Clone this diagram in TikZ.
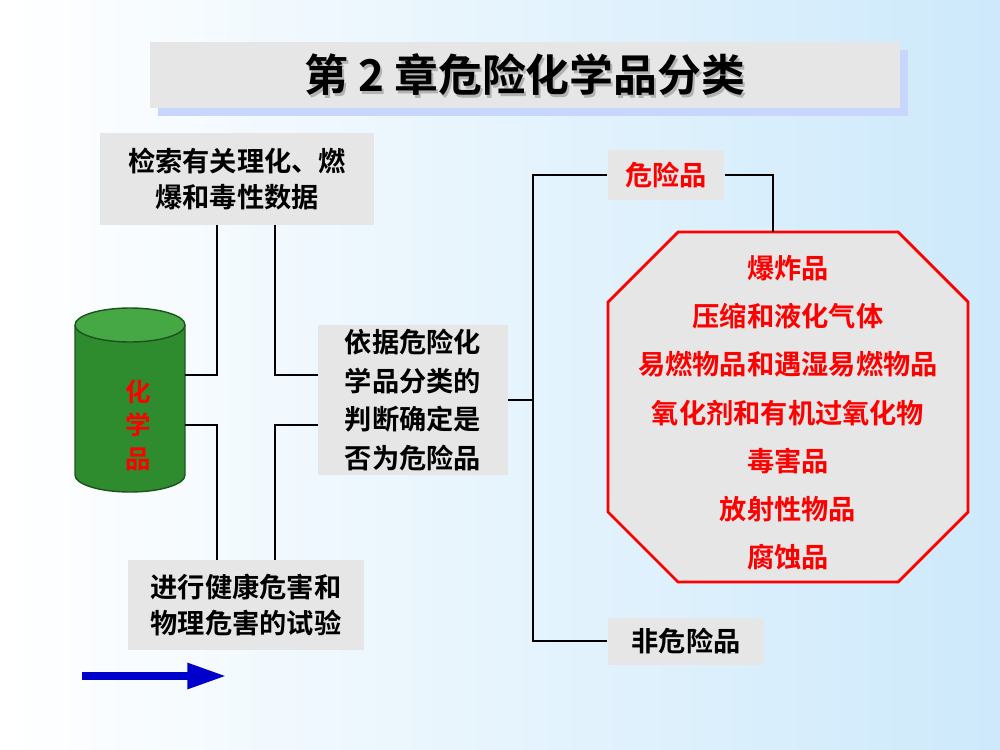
\documentclass[tikz,border=0pt]{standalone}
\usepackage{fontspec}
\setmainfont{Noto Sans CJK SC Bold}
\newfontfamily\cjkb{Noto Sans CJK SC Bold}
\usetikzlibrary{arrows.meta,shapes.geometric}
\definecolor{bgblue}{HTML}{CDE9FB}
\definecolor{boxgray}{HTML}{E6E6E6}
\definecolor{cylg}{HTML}{2E8B2E}
\definecolor{cyltop}{HTML}{45A845}
\tikzset{gbox/.style={fill=boxgray,inner sep=0pt,align=center,font=\fontsize{15.5}{20}\selectfont},
 conn/.style={line width=1.6pt,black},
 redt/.style={text=red,font=\fontsize{15.5}{20}\selectfont}}
\begin{document}
\begin{tikzpicture}[x=0.02cm,y=-0.02cm]
\shade[left color=white,right color=bgblue] (0,0) rectangle (1000,750);
\useasboundingbox (0,0) rectangle (1000,750);
% title
\fill[bgblue!80!blue!60] (158,50) rectangle (908,116);
\node[fill=boxgray,minimum width=15cm,minimum height=1.32cm,inner sep=0pt] (title) at (525,75) {};
\node[text=gray!60,font=\cjkb\fontsize{25}{30}\selectfont] at (527,78) {第 2 章危险化学品分类};
\node[font=\cjkb\fontsize{25}{30}\selectfont] (tt) at (525,75) {第 2 章危险化学品分类};
% boxes
\node[gbox,minimum width=5.5cm,minimum height=1.84cm] (b1) at (237,179) {检索有关理化、燃\\爆和毒性数据};
\node[gbox,minimum width=4.74cm,minimum height=1.8cm] (b3) at (246,605) {进行健康危害和\\物理危害的试验};
\node[gbox,minimum width=3.8cm,minimum height=3cm,font=\fontsize{15.5}{22}\selectfont] (c) at (413,400) {依据危险化\\学品分类的\\判断确定是\\否为危险品};
\node[gbox,minimum width=2.34cm,minimum height=1cm,text=red] (d) at (666,175) {危险品};
\node[gbox,minimum width=3.14cm,minimum height=0.94cm] (n) at (686,641) {非危险品};
% cylinder
\fill[cylg] (75,325) rectangle (185,475);
\fill[cylg] (75,475) arc[x radius=55,y radius=-17,start angle=180,end angle=360] -- cycle;
\draw[cylg!60!black,line width=0.8pt] (75,325) -- (75,475) arc[x radius=55,y radius=-17,start angle=180,end angle=360] -- (185,325);
\fill[cyltop,draw=cylg!60!black,line width=0.8pt] (130,325) ellipse[x radius=55,y radius=17];
\node[text=red,align=center,font=\fontsize{14.5}{19}\selectfont] (cylt) at (138,425) {化\\学\\品};
% connectors
\coordinate (j1) at (217,375); \coordinate (j2) at (275,375);
\coordinate (j3) at (217,425); \coordinate (j4) at (275,425);
\draw[conn] (b1.south -| j1) -- (j1) -- (185,375);
\draw[conn] (b1.south -| j2) -- (j2) -- (c.west |- j2);
\draw[conn] (b3.north -| j3) -- (j3) -- (185,425);
\draw[conn] (b3.north -| j4) -- (j4) -- (c.west |- j4);
\coordinate (v) at (533,400);
\draw[conn] (c.east) -- (v);
\draw[conn] (d.west) -| (v) |- (n.west);
% octagon
\draw[red,line width=1.6pt,fill=boxgray] (678,232) -- (898,232) -- (968,302) -- (968,512) -- (898,582) -- (678,582) -- (608,512) -- (608,302) -- cycle;
\coordinate (ot) at (773,232);
\draw[conn] (d.east) -| (ot);
\foreach \t [count=\i] in {爆炸品,压缩和液化气体,易燃物品和遇湿易燃物品,氧化剂和有机过氧化物,毒害品,放射性物品,腐蚀品}
  \node[redt] (o\i) at (788,{268+48.2*(\i-1)}) {\t};
% arrow
\coordinate (a1) at (82,676); \coordinate (a2) at (226,676);
\draw[blue!80!black,line width=4pt,-{Triangle[length=22pt,width=14pt]}] (a1) -- (a2);
\end{tikzpicture}
\end{document}
